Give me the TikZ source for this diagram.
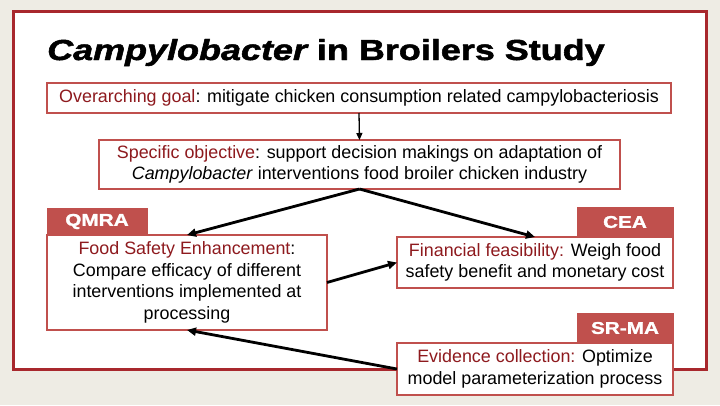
\documentclass[tikz,border=0pt]{standalone}
\usepackage{fontspec}
\setmainfont{Liberation Sans}
\newfontfamily\titleup{Liberation Sans Bold}[FakeBold=1.6]
\newfontfamily\titleit{Liberation Sans Bold Italic}[FakeBold=1.6]
\newfontfamily\lblfont{Liberation Sans Bold}[FakeBold=1.2]
\usetikzlibrary{arrows.meta}
\definecolor{bg}{HTML}{EEECE4}
\definecolor{framered}{HTML}{A8282D}
\definecolor{boxred}{HTML}{C0504D}
\definecolor{txtred}{HTML}{8E1A1E}
\begin{document}
\begin{tikzpicture}[x=1pt,y=-1pt,
  box/.style={draw=boxred, line width=2.6pt, fill=white, inner sep=0pt, outer sep=0pt, align=center, font=\fontsize{17.9}{21.6}\selectfont},
  lbl/.style={draw=boxred, fill=boxred, line width=1pt, text=white, inner sep=0pt, outer sep=0pt, font=\lblfont\fontsize{17}{20}\selectfont},
  arr/.style={-{Triangle[length=9pt,width=8pt]}, line width=2.8pt},
  thinarr/.style={-{Triangle[length=7pt,width=6pt]}, line width=1.3pt}]
\useasboundingbox[fill=bg] (0,0) rectangle (720,405);
\draw[framered, fill=white, line width=3pt] (13.5,11.5) rectangle (706.5,369.5);
\node[anchor=base west, inner sep=0pt] (title) at (47,60) {\fontsize{29}{32}\selectfont\scalebox{1.24}[1]{\titleit Campylobacter\titleup{} in Broilers Study}};
\node[box, minimum width=624pt, minimum height=30pt] (goal) at (359,98) {\textcolor{txtred}{Overarching goal}: mitigate chicken consumption related campylobacteriosis};
\node[box, minimum width=521pt, minimum height=49pt] (spec) at (359.5,164.5) {\textcolor{txtred}{Specific objective}: support decision makings on adaptation of\\ \textit{Campylobacter} interventions food broiler chicken industry};
\node[box, minimum width=280pt, minimum height=95pt] (qbox) at (187,282.5) {\textcolor{txtred}{Food Safety Enhancement}:\\ Compare efficacy of different\\ interventions implemented at\\ processing};
\node[lbl, minimum width=100pt, minimum height=27pt] (qlbl) at (97,221.5) {\scalebox{1.22}[1]{QMRA}};
\node[box, minimum width=276pt, minimum height=51pt] (cbox) at (535,262.5) {\textcolor{txtred}{Financial feasibility:} Weigh food\\ safety benefit and monetary cost};
\node[lbl, minimum width=96pt, minimum height=30pt] (clbl) at (625,222) {\scalebox{1.22}[1]{CEA}};
\node[box, minimum width=276pt, minimum height=52pt] (sbox) at (535,369) {\textcolor{txtred}{Evidence collection:} Optimize\\ model parameterization process};
\node[lbl, minimum width=96pt, minimum height=30pt] (slbl) at (625,328) {\scalebox{1.22}[1]{SR-MA}};
\draw[thinarr] (goal.south) -- (spec.north);
\draw[arr] (spec.south) -- (qbox.north);
\draw[arr] (spec.south) -- (cbox.north);
\draw[arr] (qbox.east) -- (cbox.west);
\draw[arr] (sbox.west) -- (qbox.south);
\end{tikzpicture}
\end{document}
